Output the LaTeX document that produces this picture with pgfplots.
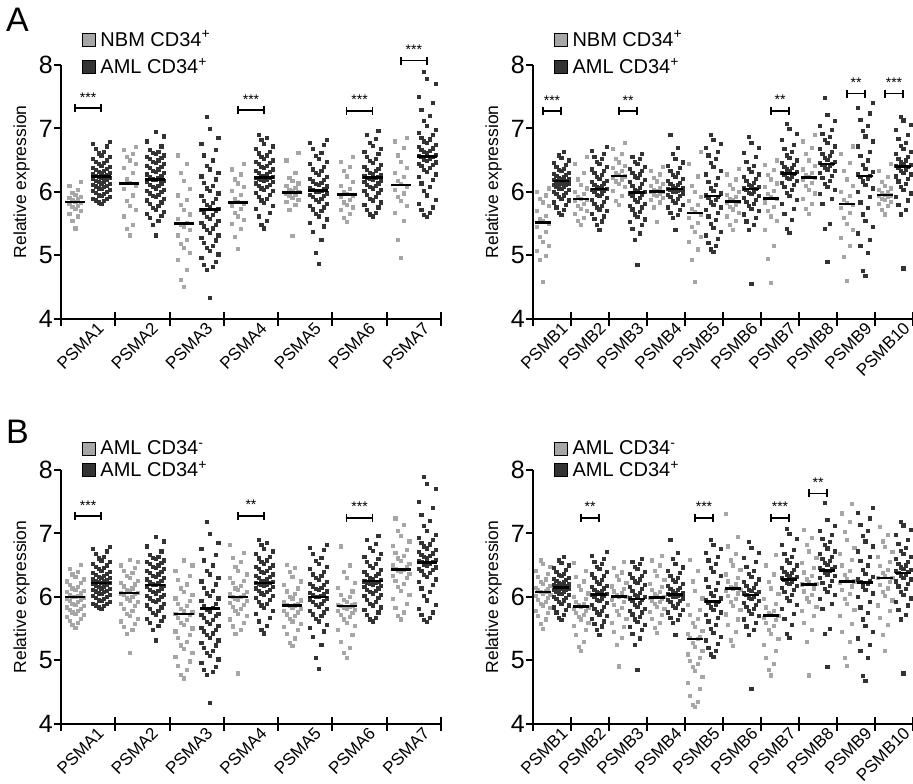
\documentclass[border=0pt]{standalone}
\usepackage{fontspec}
\setmainfont{Liberation Sans}
\usepackage{pgfplots}
\usepackage{pgfplotstable}
\pgfplotsset{compat=1.18}
\definecolor{lg}{HTML}{A6A6A6}
\definecolor{dg}{HTML}{333333}

% ---------- NBM CD34+ (panel A), PSMA1..7 ----------
\pgfplotstableread[header=false,row sep=\\]{5.43\\5.55\\5.62\\5.66\\5.70\\5.74\\5.77\\5.79\\5.81\\5.83\\5.85\\5.87\\5.89\\5.91\\5.93\\5.96\\5.99\\6.03\\6.10\\6.16\\}\nbmAa
\pgfplotstableread[header=false,row sep=\\]{5.32\\5.42\\5.48\\5.62\\5.72\\5.78\\5.86\\5.95\\6.05\\6.10\\6.15\\6.20\\6.30\\6.38\\6.45\\6.50\\6.55\\6.60\\6.66\\6.71\\}\nbmAb
\pgfplotstableread[header=false,row sep=\\]{4.51\\4.62\\4.78\\4.93\\5.05\\5.12\\5.18\\5.25\\5.32\\5.40\\5.45\\5.49\\5.52\\5.58\\5.65\\5.72\\5.80\\5.88\\5.95\\6.05\\6.18\\6.30\\6.45\\6.58\\}\nbmAc
\pgfplotstableread[header=false,row sep=\\]{5.11\\5.30\\5.42\\5.50\\5.56\\5.62\\5.68\\5.74\\5.79\\5.82\\5.85\\5.90\\5.96\\6.02\\6.08\\6.14\\6.20\\6.28\\6.36\\6.45\\}\nbmAd
\pgfplotstableread[header=false,row sep=\\]{5.31\\5.72\\5.80\\5.85\\5.88\\5.91\\5.94\\5.96\\5.98\\6.00\\6.02\\6.04\\6.07\\6.10\\6.14\\6.18\\6.22\\6.30\\6.50\\6.62\\}\nbmAe
\pgfplotstableread[header=false,row sep=\\]{5.53\\5.60\\5.66\\5.72\\5.76\\5.80\\5.84\\5.88\\5.92\\5.95\\5.97\\6.00\\6.05\\6.10\\6.16\\6.25\\6.33\\6.40\\6.48\\6.55\\}\nbmAf
\pgfplotstableread[header=false,row sep=\\]{4.96\\5.25\\5.55\\5.68\\5.78\\5.86\\5.92\\5.98\\6.04\\6.09\\6.13\\6.18\\6.24\\6.30\\6.38\\6.48\\6.58\\6.70\\6.80\\6.85\\}\nbmAg
% ---------- AML CD34+, PSMA1..7 ----------
\pgfplotstableread[header=false,row sep=\\]{5.82\\5.84\\5.86\\5.87\\5.89\\5.90\\5.92\\5.94\\5.95\\5.97\\5.99\\6.00\\6.02\\6.03\\6.05\\6.06\\6.08\\6.09\\6.10\\6.12\\6.13\\6.14\\6.16\\6.17\\6.18\\6.20\\6.21\\6.22\\6.23\\6.24\\6.25\\6.26\\6.27\\6.28\\6.30\\6.31\\6.32\\6.34\\6.35\\6.37\\6.38\\6.40\\6.42\\6.44\\6.46\\6.48\\6.50\\6.52\\6.55\\6.58\\6.61\\6.64\\6.68\\6.72\\6.76\\6.79\\}\amlAa
\pgfplotstableread[header=false,row sep=\\]{5.32\\5.48\\5.55\\5.60\\5.63\\5.66\\5.69\\5.72\\5.75\\5.78\\5.81\\5.84\\5.87\\5.90\\5.92\\5.94\\5.96\\5.98\\6.00\\6.02\\6.04\\6.06\\6.08\\6.10\\6.12\\6.14\\6.16\\6.18\\6.19\\6.20\\6.22\\6.24\\6.26\\6.28\\6.30\\6.32\\6.34\\6.36\\6.38\\6.40\\6.42\\6.44\\6.46\\6.48\\6.50\\6.52\\6.54\\6.56\\6.58\\6.60\\6.62\\6.64\\6.67\\6.72\\6.80\\6.88\\6.95\\}\amlAb
\pgfplotstableread[header=false,row sep=\\]{4.33\\4.78\\4.82\\4.86\\4.90\\4.96\\5.02\\5.08\\5.12\\5.16\\5.20\\5.24\\5.28\\5.32\\5.36\\5.40\\5.43\\5.46\\5.49\\5.52\\5.55\\5.58\\5.61\\5.64\\5.67\\5.70\\5.72\\5.74\\5.77\\5.80\\5.83\\5.86\\5.90\\5.94\\5.98\\6.02\\6.06\\6.10\\6.15\\6.20\\6.25\\6.30\\6.36\\6.42\\6.50\\6.58\\6.66\\6.76\\6.85\\7.00\\7.18\\}\amlAc
\pgfplotstableread[header=false,row sep=\\]{5.43\\5.48\\5.55\\5.62\\5.68\\5.74\\5.79\\5.83\\5.87\\5.90\\5.93\\5.96\\5.99\\6.02\\6.04\\6.06\\6.08\\6.10\\6.12\\6.14\\6.16\\6.18\\6.19\\6.20\\6.21\\6.22\\6.23\\6.24\\6.25\\6.26\\6.28\\6.30\\6.32\\6.34\\6.36\\6.38\\6.40\\6.42\\6.44\\6.46\\6.48\\6.50\\6.52\\6.55\\6.58\\6.61\\6.64\\6.68\\6.72\\6.76\\6.82\\6.86\\6.90\\}\amlAd
\pgfplotstableread[header=false,row sep=\\]{4.87\\5.05\\5.25\\5.38\\5.46\\5.52\\5.57\\5.62\\5.66\\5.70\\5.73\\5.76\\5.79\\5.82\\5.85\\5.88\\5.90\\5.92\\5.94\\5.96\\5.98\\6.00\\6.01\\6.02\\6.03\\6.05\\6.07\\6.09\\6.11\\6.13\\6.15\\6.17\\6.19\\6.21\\6.24\\6.27\\6.30\\6.33\\6.36\\6.40\\6.44\\6.48\\6.52\\6.57\\6.62\\6.68\\6.74\\6.78\\6.82\\}\amlAe
\pgfplotstableread[header=false,row sep=\\]{5.62\\5.65\\5.68\\5.72\\5.76\\5.80\\5.84\\5.87\\5.90\\5.93\\5.96\\5.99\\6.02\\6.04\\6.06\\6.08\\6.10\\6.12\\6.14\\6.16\\6.18\\6.20\\6.21\\6.22\\6.23\\6.24\\6.25\\6.27\\6.29\\6.31\\6.33\\6.35\\6.37\\6.40\\6.43\\6.46\\6.49\\6.52\\6.56\\6.60\\6.64\\6.68\\6.73\\6.78\\6.84\\6.90\\6.97\\}\amlAf
\pgfplotstableread[header=false,row sep=\\]{5.61\\5.64\\5.68\\5.72\\5.76\\5.82\\5.88\\5.95\\6.02\\6.08\\6.14\\6.19\\6.24\\6.28\\6.32\\6.35\\6.38\\6.41\\6.43\\6.45\\6.47\\6.49\\6.51\\6.53\\6.55\\6.56\\6.57\\6.59\\6.61\\6.63\\6.65\\6.67\\6.69\\6.71\\6.74\\6.77\\6.80\\6.83\\6.86\\6.90\\6.94\\6.98\\7.04\\7.12\\7.20\\7.30\\7.40\\7.50\\7.70\\7.78\\7.90\\}\amlAg
% ---------- NBM CD34+ (panel A), PSMB1..10 ----------
\pgfplotstableread[header=false,row sep=\\]{4.59\\4.93\\5.00\\5.08\\5.15\\5.22\\5.30\\5.38\\5.45\\5.50\\5.54\\5.58\\5.63\\5.70\\5.78\\5.84\\5.90\\5.95\\6.00\\6.06\\}\nbmBa
\pgfplotstableread[header=false,row sep=\\]{5.48\\5.55\\5.60\\5.66\\5.70\\5.74\\5.78\\5.82\\5.86\\5.88\\5.90\\5.93\\5.97\\6.01\\6.06\\6.12\\6.20\\6.30\\6.45\\6.56\\}\nbmBb
\pgfplotstableread[header=false,row sep=\\]{5.80\\5.86\\5.94\\6.02\\6.08\\6.13\\6.17\\6.20\\6.23\\6.25\\6.27\\6.30\\6.34\\6.38\\6.42\\6.47\\6.52\\6.60\\6.68\\6.77\\}\nbmBc
\pgfplotstableread[header=false,row sep=\\]{5.53\\5.76\\5.84\\5.88\\5.91\\5.94\\5.96\\5.98\\6.00\\6.01\\6.02\\6.04\\6.07\\6.10\\6.13\\6.17\\6.22\\6.28\\6.34\\6.40\\}\nbmBd
\pgfplotstableread[header=false,row sep=\\]{4.59\\4.93\\5.10\\5.22\\5.30\\5.38\\5.45\\5.52\\5.60\\5.65\\5.69\\5.74\\5.80\\5.86\\5.92\\6.00\\6.10\\6.25\\6.45\\6.64\\}\nbmBe
\pgfplotstableread[header=false,row sep=\\]{5.41\\5.48\\5.55\\5.62\\5.68\\5.73\\5.77\\5.80\\5.83\\5.85\\5.87\\5.90\\5.93\\5.96\\6.00\\6.05\\6.12\\6.20\\6.28\\6.37\\}\nbmBf
\pgfplotstableread[header=false,row sep=\\]{4.57\\4.95\\5.15\\5.40\\5.55\\5.62\\5.70\\5.77\\5.84\\5.89\\5.92\\5.97\\6.02\\6.08\\6.14\\6.20\\6.27\\6.35\\6.43\\6.50\\}\nbmBg
\pgfplotstableread[header=false,row sep=\\]{5.66\\5.74\\5.82\\5.90\\5.98\\6.04\\6.10\\6.15\\6.19\\6.22\\6.24\\6.27\\6.31\\6.36\\6.42\\6.50\\6.60\\6.70\\6.80\\6.90\\}\nbmBh
\pgfplotstableread[header=false,row sep=\\]{4.60\\4.98\\5.15\\5.28\\5.40\\5.50\\5.60\\5.68\\5.75\\5.80\\5.83\\5.88\\5.94\\6.00\\6.10\\6.20\\6.33\\6.46\\6.60\\6.72\\}\nbmBi
\pgfplotstableread[header=false,row sep=\\]{5.65\\5.72\\5.78\\5.82\\5.85\\5.88\\5.90\\5.92\\5.94\\5.95\\5.96\\5.98\\6.00\\6.03\\6.06\\6.10\\6.16\\6.24\\6.34\\6.44\\}\nbmBj
% ---------- AML CD34+, PSMB1..10 ----------
\pgfplotstableread[header=false,row sep=\\]{5.64\\5.68\\5.72\\5.76\\5.80\\5.84\\5.87\\5.90\\5.93\\5.95\\5.97\\5.99\\6.01\\6.03\\6.05\\6.06\\6.08\\6.09\\6.11\\6.12\\6.13\\6.14\\6.15\\6.16\\6.17\\6.18\\6.19\\6.20\\6.21\\6.23\\6.24\\6.26\\6.27\\6.29\\6.31\\6.33\\6.35\\6.37\\6.40\\6.43\\6.46\\6.50\\6.54\\6.58\\6.64\\}\amlBa
\pgfplotstableread[header=false,row sep=\\]{5.40\\5.48\\5.54\\5.58\\5.62\\5.66\\5.70\\5.73\\5.76\\5.79\\5.82\\5.85\\5.88\\5.91\\5.94\\5.96\\5.98\\6.00\\6.02\\6.04\\6.05\\6.06\\6.08\\6.10\\6.12\\6.14\\6.16\\6.18\\6.21\\6.24\\6.27\\6.30\\6.33\\6.36\\6.40\\6.44\\6.48\\6.52\\6.56\\6.60\\6.65\\6.71\\}\amlBb
\pgfplotstableread[header=false,row sep=\\]{4.85\\5.25\\5.35\\5.42\\5.48\\5.53\\5.57\\5.61\\5.65\\5.69\\5.73\\5.76\\5.79\\5.82\\5.85\\5.88\\5.91\\5.94\\5.96\\5.98\\6.00\\6.02\\6.04\\6.07\\6.10\\6.13\\6.16\\6.19\\6.22\\6.25\\6.28\\6.31\\6.34\\6.37\\6.40\\6.44\\6.48\\6.52\\6.56\\6.60\\}\amlBc
\pgfplotstableread[header=false,row sep=\\]{5.40\\5.60\\5.64\\5.68\\5.72\\5.76\\5.80\\5.83\\5.86\\5.89\\5.92\\5.94\\5.96\\5.98\\6.00\\6.01\\6.02\\6.03\\6.04\\6.05\\6.06\\6.07\\6.09\\6.11\\6.13\\6.15\\6.18\\6.21\\6.24\\6.27\\6.30\\6.34\\6.38\\6.42\\6.47\\6.52\\6.60\\6.70\\6.90\\}\amlBd
\pgfplotstableread[header=false,row sep=\\]{5.06\\5.10\\5.15\\5.20\\5.26\\5.32\\5.38\\5.44\\5.50\\5.56\\5.62\\5.67\\5.72\\5.76\\5.80\\5.84\\5.88\\5.91\\5.93\\5.95\\5.98\\6.02\\6.06\\6.11\\6.16\\6.22\\6.28\\6.34\\6.40\\6.46\\6.52\\6.58\\6.64\\6.70\\6.76\\6.82\\6.90\\}\amlBe
\pgfplotstableread[header=false,row sep=\\]{4.56\\5.40\\5.48\\5.54\\5.60\\5.65\\5.70\\5.74\\5.78\\5.82\\5.85\\5.88\\5.91\\5.94\\5.97\\5.99\\6.01\\6.03\\6.05\\6.06\\6.08\\6.10\\6.12\\6.15\\6.18\\6.21\\6.24\\6.28\\6.32\\6.37\\6.42\\6.48\\6.55\\6.62\\6.70\\6.78\\6.87\\}\amlBf
\pgfplotstableread[header=false,row sep=\\]{5.36\\5.42\\5.56\\5.66\\5.74\\5.82\\5.88\\5.94\\5.99\\6.04\\6.08\\6.12\\6.15\\6.18\\6.21\\6.23\\6.25\\6.27\\6.29\\6.30\\6.32\\6.34\\6.36\\6.38\\6.40\\6.43\\6.46\\6.50\\6.54\\6.58\\6.63\\6.68\\6.74\\6.82\\6.92\\7.00\\7.07\\}\amlBg
\pgfplotstableread[header=false,row sep=\\]{4.90\\5.42\\5.50\\5.82\\5.90\\5.97\\6.03\\6.08\\6.13\\6.18\\6.22\\6.26\\6.30\\6.33\\6.36\\6.39\\6.41\\6.43\\6.44\\6.46\\6.48\\6.51\\6.54\\6.57\\6.60\\6.64\\6.68\\6.72\\6.77\\6.82\\6.87\\6.92\\6.98\\7.05\\7.12\\7.22\\7.48\\}\amlBh
\pgfplotstableread[header=false,row sep=\\]{4.68\\4.76\\5.05\\5.15\\5.25\\5.35\\5.45\\5.55\\5.65\\5.75\\5.84\\5.92\\6.00\\6.06\\6.12\\6.17\\6.21\\6.24\\6.26\\6.28\\6.32\\6.37\\6.43\\6.50\\6.57\\6.64\\6.72\\6.80\\6.88\\6.96\\7.05\\7.14\\7.24\\7.33\\7.41\\}\amlBi
\pgfplotstableread[header=false,row sep=\\]{4.80\\5.65\\5.72\\5.80\\5.87\\5.93\\5.98\\6.03\\6.08\\6.13\\6.17\\6.21\\6.25\\6.28\\6.31\\6.34\\6.36\\6.38\\6.40\\6.41\\6.43\\6.45\\6.47\\6.50\\6.53\\6.56\\6.60\\6.64\\6.68\\6.73\\6.78\\6.84\\6.90\\6.98\\7.06\\7.13\\7.19\\}\amlBj
% ---------- AML CD34- (panel B), PSMA1..7 ----------
\pgfplotstableread[header=false,row sep=\\]{5.52\\5.56\\5.60\\5.63\\5.66\\5.69\\5.72\\5.74\\5.76\\5.78\\5.80\\5.82\\5.84\\5.86\\5.88\\5.90\\5.92\\5.94\\5.96\\5.98\\5.99\\6.00\\6.01\\6.02\\6.04\\6.06\\6.08\\6.10\\6.12\\6.14\\6.16\\6.19\\6.22\\6.25\\6.28\\6.32\\6.36\\6.40\\6.45\\6.51\\}\negAa
\pgfplotstableread[header=false,row sep=\\]{5.12\\5.42\\5.48\\5.53\\5.58\\5.62\\5.66\\5.70\\5.74\\5.78\\5.82\\5.86\\5.89\\5.92\\5.95\\5.98\\6.01\\6.03\\6.05\\6.06\\6.07\\6.09\\6.11\\6.14\\6.17\\6.20\\6.23\\6.26\\6.30\\6.34\\6.38\\6.42\\6.46\\6.50\\6.55\\6.59\\}\negAb
\pgfplotstableread[header=false,row sep=\\]{4.72\\4.78\\4.85\\4.92\\4.99\\5.06\\5.12\\5.18\\5.24\\5.30\\5.36\\5.41\\5.46\\5.51\\5.56\\5.60\\5.64\\5.68\\5.72\\5.74\\5.76\\5.78\\5.82\\5.86\\5.90\\5.94\\5.98\\6.03\\6.08\\6.14\\6.20\\6.27\\6.34\\6.42\\6.50\\6.58\\}\negAc
\pgfplotstableread[header=false,row sep=\\]{4.80\\5.42\\5.48\\5.54\\5.60\\5.65\\5.70\\5.74\\5.78\\5.82\\5.85\\5.88\\5.91\\5.94\\5.96\\5.98\\6.00\\6.01\\6.03\\6.05\\6.08\\6.11\\6.14\\6.18\\6.22\\6.26\\6.31\\6.36\\6.42\\6.48\\6.55\\6.62\\6.70\\6.82\\}\negAd
\pgfplotstableread[header=false,row sep=\\]{5.23\\5.28\\5.35\\5.42\\5.48\\5.53\\5.58\\5.62\\5.66\\5.70\\5.73\\5.76\\5.79\\5.82\\5.84\\5.86\\5.87\\5.88\\5.90\\5.92\\5.95\\5.98\\6.01\\6.05\\6.09\\6.14\\6.19\\6.25\\6.32\\6.40\\6.46\\6.51\\}\negAe
\pgfplotstableread[header=false,row sep=\\]{5.05\\5.12\\5.20\\5.30\\5.40\\5.48\\5.55\\5.60\\5.65\\5.69\\5.72\\5.75\\5.78\\5.80\\5.82\\5.84\\5.85\\5.86\\5.87\\5.88\\5.90\\5.93\\5.96\\6.00\\6.04\\6.09\\6.15\\6.22\\6.30\\6.40\\6.50\\6.80\\}\negAf
\pgfplotstableread[header=false,row sep=\\]{5.65\\5.70\\5.76\\5.83\\5.90\\5.97\\6.04\\6.10\\6.16\\6.21\\6.26\\6.30\\6.34\\6.37\\6.40\\6.42\\6.43\\6.45\\6.47\\6.50\\6.53\\6.57\\6.61\\6.65\\6.70\\6.75\\6.81\\6.88\\6.96\\7.05\\7.14\\7.24\\}\negAg
% ---------- AML CD34- (panel B), PSMB1..10 ----------
\pgfplotstableread[header=false,row sep=\\]{5.50\\5.58\\5.65\\5.70\\5.75\\5.79\\5.83\\5.87\\5.90\\5.93\\5.96\\5.99\\6.02\\6.04\\6.06\\6.08\\6.09\\6.11\\6.13\\6.15\\6.18\\6.21\\6.24\\6.28\\6.32\\6.37\\6.42\\6.48\\6.53\\6.58\\}\negBa
\pgfplotstableread[header=false,row sep=\\]{5.15\\5.22\\5.30\\5.40\\5.48\\5.55\\5.60\\5.65\\5.69\\5.72\\5.75\\5.78\\5.81\\5.84\\5.85\\5.87\\5.90\\5.93\\5.97\\6.01\\6.06\\6.12\\6.18\\6.25\\6.32\\6.42\\6.54\\}\negBb
\pgfplotstableread[header=false,row sep=\\]{4.91\\5.25\\5.36\\5.45\\5.53\\5.60\\5.66\\5.72\\5.78\\5.83\\5.88\\5.92\\5.96\\6.00\\6.01\\6.03\\6.06\\6.09\\6.13\\6.17\\6.22\\6.27\\6.33\\6.39\\6.46\\6.56\\}\negBc
\pgfplotstableread[header=false,row sep=\\]{5.44\\5.52\\5.60\\5.66\\5.72\\5.77\\5.81\\5.85\\5.89\\5.92\\5.95\\5.97\\5.99\\6.00\\6.02\\6.05\\6.08\\6.12\\6.16\\6.21\\6.27\\6.34\\6.42\\6.50\\6.58\\6.65\\}\negBd
\pgfplotstableread[header=false,row sep=\\]{4.27\\4.30\\4.35\\4.45\\4.55\\4.65\\4.75\\4.84\\4.90\\4.95\\5.00\\5.05\\5.10\\5.16\\5.22\\5.28\\5.34\\5.36\\5.38\\5.42\\5.47\\5.53\\5.60\\5.66\\5.72\\5.80\\5.88\\5.98\\6.10\\6.25\\6.42\\6.59\\}\negBe
\pgfplotstableread[header=false,row sep=\\]{5.23\\5.32\\5.45\\5.56\\5.65\\5.73\\5.80\\5.86\\5.92\\5.97\\6.02\\6.06\\6.10\\6.12\\6.14\\6.16\\6.20\\6.25\\6.30\\6.36\\6.43\\6.50\\6.58\\6.68\\6.80\\6.95\\7.31\\}\negBf
\pgfplotstableread[header=false,row sep=\\]{4.77\\4.85\\4.95\\5.05\\5.15\\5.25\\5.34\\5.42\\5.49\\5.55\\5.60\\5.64\\5.68\\5.71\\5.72\\5.75\\5.79\\5.84\\5.90\\5.97\\6.05\\6.14\\6.24\\6.36\\6.50\\6.67\\}\negBg
\pgfplotstableread[header=false,row sep=\\]{4.77\\5.30\\5.48\\5.60\\5.70\\5.78\\5.85\\5.92\\5.98\\6.04\\6.09\\6.14\\6.20\\6.21\\6.24\\6.28\\6.33\\6.39\\6.46\\6.54\\6.62\\6.72\\6.82\\6.93\\7.06\\}\negBh
\pgfplotstableread[header=false,row sep=\\]{4.92\\5.05\\5.30\\5.45\\5.58\\5.70\\5.80\\5.89\\5.97\\6.05\\6.11\\6.17\\6.22\\6.25\\6.29\\6.35\\6.42\\6.50\\6.59\\6.68\\6.78\\6.90\\7.03\\7.18\\7.32\\7.47\\}\negBi
\pgfplotstableread[header=false,row sep=\\]{5.15\\5.40\\5.56\\5.68\\5.78\\5.87\\5.95\\6.02\\6.08\\6.14\\6.19\\6.24\\6.30\\6.31\\6.34\\6.38\\6.43\\6.49\\6.56\\6.63\\6.71\\6.79\\6.88\\6.98\\7.11\\}\negBj

% group of dots: #1 centre, #2 jitter step, #3 jitter period, #4 colour, #5 table
\newcommand{\grp}[5]{\addplot[only marks, mark=square*, mark size=1.6pt, color=#4] table[x expr={#1+#2*(1-2*mod(mod(\coordindex,#3),2))*ceil(mod(\coordindex,#3)/2)}, y index=0] {#5};}
% significance bracket
\newcommand{\brk}[4]{\addplot[black, line width=1.8pt, mark=|, mark size=4pt, mark options={line width=1.8pt}] coordinates {(#1,#3)(#2,#3)} node[pos=0.5, anchor=base, yshift=6pt, inner sep=0pt, font=\fontsize{14}{14}\selectfont] {#4};}
% medians
\newcommand{\med}[2]{\addplot[only marks, mark=-, mark size=#1, mark options={line width=2.6pt, black}] coordinates {#2};}

\pgfplotsset{
  panel/.style={
    scale only axis, width=380pt, height=254pt,
    ymin=4, ymax=8, ytick={4,5,6,7,8},
    axis x line*=bottom, axis y line*=left,
    axis line style={line width=2pt, black},
    every tick/.style={line width=2pt, black},
    major tick length=7pt,
    minor tick length=14pt,
    ytick align=outside,
    xtick align=center,
    major x tick style={draw=none},
    clip=false,
    /pgf/number format/assume math mode=true,
    yticklabel style={font=\fontsize{25}{25}\selectfont, inner sep=1pt},
    xticklabel style={font=\fontsize{17}{17}\selectfont, rotate=45, anchor=east, inner sep=0pt, xshift=7pt, yshift=-11pt},
    ylabel={Relative expression},
    ylabel style={font=\fontsize{17.5}{17.5}\selectfont, anchor=center},
    legend cell align=left,
    legend image code/.code={\fill (0pt,-6.5pt) rectangle (13pt,6.5pt);},
    legend style={draw=none, fill=none, inner sep=0pt, anchor=north west, font=\fontsize{20}{20}\selectfont,
      nodes={inner sep=0pt, font=\fontsize{20}{20}\selectfont},
      /tikz/every odd column/.append style={column sep=5pt}},
  },
}

\begin{document}
\begin{tikzpicture}
\useasboundingbox (0,0) rectangle (913pt,784pt);
\node[font=\fontsize{34}{34}\selectfont, anchor=north west, inner sep=0pt] at (6pt,776pt) {A};
\node[font=\fontsize{34}{34}\selectfont, anchor=north west, inner sep=0pt] at (6pt,364pt) {B};

% ================= A left =================
\begin{axis}[panel, at={(61pt,465pt)}, anchor=south west,
  xmin=0, xmax=7, xtick={0.5,1.5,...,6.5},
  xticklabels={PSMA1,PSMA2,PSMA3,PSMA4,PSMA5,PSMA6,PSMA7},
  minor xtick={0,1,...,7},
  ylabel style={at={(axis description cs:-0.104,0.54)}},
  legend style={at={(axis description cs:0.055,1.135)}, row sep=10pt}]
\addlegendimage{fill=lg}\addlegendentry{NBM CD34\textsuperscript{+}}
\addlegendimage{fill=dg}\addlegendentry{AML CD34\textsuperscript{+}}
\grp{0.26}{0.055}{5}{lg}{\nbmAa}\grp{0.74}{0.052}{7}{dg}{\amlAa}
\grp{1.26}{0.055}{5}{lg}{\nbmAb}\grp{1.74}{0.052}{7}{dg}{\amlAb}
\grp{2.26}{0.055}{5}{lg}{\nbmAc}\grp{2.74}{0.052}{7}{dg}{\amlAc}
\grp{3.26}{0.055}{5}{lg}{\nbmAd}\grp{3.74}{0.052}{7}{dg}{\amlAd}
\grp{4.26}{0.055}{5}{lg}{\nbmAe}\grp{4.74}{0.052}{7}{dg}{\amlAe}
\grp{5.26}{0.055}{5}{lg}{\nbmAf}\grp{5.74}{0.052}{7}{dg}{\amlAf}
\grp{6.26}{0.055}{5}{lg}{\nbmAg}\grp{6.74}{0.052}{7}{dg}{\amlAg}
\med{10pt}{(0.26,5.84)(0.74,6.24)(1.26,6.13)(1.74,6.20)(2.26,5.50)(2.74,5.72)(3.26,5.83)(3.74,6.23)(4.26,5.99)(4.74,6.02)(5.26,5.96)(5.74,6.23)(6.26,6.11)(6.74,6.56)}
\brk{0.26}{0.74}{7.32}{***}
\brk{3.26}{3.74}{7.29}{***}
\brk{5.26}{5.74}{7.28}{***}
\brk{6.26}{6.74}{8.07}{***}
\end{axis}

% ================= A right =================
\begin{axis}[panel, at={(533pt,465pt)}, anchor=south west,
  xmin=0, xmax=10, xtick={0.5,1.5,...,9.5},
  xticklabels={PSMB1,PSMB2,PSMB3,PSMB4,PSMB5,PSMB6,PSMB7,PSMB8,PSMB9,PSMB10},
  minor xtick={0,1,...,10},
  ylabel style={at={(axis description cs:-0.104,0.54)}},
  legend style={at={(axis description cs:0.055,1.135)}, row sep=10pt}]
\addlegendimage{fill=lg}\addlegendentry{NBM CD34\textsuperscript{+}}
\addlegendimage{fill=dg}\addlegendentry{AML CD34\textsuperscript{+}}
\grp{0.26}{0.078}{5}{lg}{\nbmBa}\grp{0.74}{0.065}{7}{dg}{\amlBa}
\grp{1.26}{0.078}{5}{lg}{\nbmBb}\grp{1.74}{0.065}{7}{dg}{\amlBb}
\grp{2.26}{0.078}{5}{lg}{\nbmBc}\grp{2.74}{0.065}{7}{dg}{\amlBc}
\grp{3.26}{0.078}{5}{lg}{\nbmBd}\grp{3.74}{0.065}{7}{dg}{\amlBd}
\grp{4.26}{0.078}{5}{lg}{\nbmBe}\grp{4.74}{0.065}{7}{dg}{\amlBe}
\grp{5.26}{0.078}{5}{lg}{\nbmBf}\grp{5.74}{0.065}{7}{dg}{\amlBf}
\grp{6.26}{0.078}{5}{lg}{\nbmBg}\grp{6.74}{0.065}{7}{dg}{\amlBg}
\grp{7.26}{0.078}{5}{lg}{\nbmBh}\grp{7.74}{0.065}{7}{dg}{\amlBh}
\grp{8.26}{0.078}{5}{lg}{\nbmBi}\grp{8.74}{0.065}{7}{dg}{\amlBi}
\grp{9.26}{0.078}{5}{lg}{\nbmBj}\grp{9.74}{0.065}{7}{dg}{\amlBj}
\med{8pt}{(0.26,5.52)(0.74,6.17)(1.26,5.89)(1.74,6.05)(2.26,6.25)(2.74,5.99)(3.26,6.01)(3.74,6.05)(4.26,5.67)(4.74,5.94)(5.26,5.85)(5.74,6.05)(6.26,5.90)(6.74,6.29)(7.26,6.23)(7.74,6.44)(8.26,5.81)(8.74,6.25)(9.26,5.95)(9.74,6.40)}
\brk{0.26}{0.74}{7.27}{***}
\brk{2.26}{2.74}{7.27}{**}
\brk{6.26}{6.74}{7.28}{**}
\brk{8.26}{8.74}{7.55}{**}
\brk{9.26}{9.74}{7.55}{***}
\end{axis}

% ================= B left =================
\begin{axis}[panel, at={(61pt,60pt)}, anchor=south west,
  xmin=0, xmax=7, xtick={0.5,1.5,...,6.5},
  xticklabels={PSMA1,PSMA2,PSMA3,PSMA4,PSMA5,PSMA6,PSMA7},
  minor xtick={0,1,...,7},
  ylabel style={at={(axis description cs:-0.104,0.5)}},
  legend style={at={(axis description cs:0.055,1.116)}, row sep=5pt}]
\addlegendimage{fill=lg}\addlegendentry{AML CD34\textsuperscript{-}}
\addlegendimage{fill=dg}\addlegendentry{AML CD34\textsuperscript{+}}
\grp{0.26}{0.052}{7}{lg}{\negAa}\grp{0.74}{0.052}{7}{dg}{\amlAa}
\grp{1.26}{0.052}{7}{lg}{\negAb}\grp{1.74}{0.052}{7}{dg}{\amlAb}
\grp{2.26}{0.052}{7}{lg}{\negAc}\grp{2.74}{0.052}{7}{dg}{\amlAc}
\grp{3.26}{0.052}{7}{lg}{\negAd}\grp{3.74}{0.052}{7}{dg}{\amlAd}
\grp{4.26}{0.052}{7}{lg}{\negAe}\grp{4.74}{0.052}{7}{dg}{\amlAe}
\grp{5.26}{0.052}{7}{lg}{\negAf}\grp{5.74}{0.052}{7}{dg}{\amlAf}
\grp{6.26}{0.052}{7}{lg}{\negAg}\grp{6.74}{0.052}{7}{dg}{\amlAg}
\med{10pt}{(0.26,6.00)(0.74,6.22)(1.26,6.06)(1.74,6.19)(2.26,5.73)(2.74,5.82)(3.26,6.00)(3.74,6.22)(4.26,5.87)(4.74,6.00)(5.26,5.86)(5.74,6.25)(6.26,6.43)(6.74,6.54)}
\brk{0.26}{0.74}{7.27}{***}
\brk{3.26}{3.74}{7.28}{**}
\brk{5.26}{5.74}{7.25}{***}
\end{axis}

% ================= B right =================
\begin{axis}[panel, at={(533pt,60pt)}, anchor=south west,
  xmin=0, xmax=10, xtick={0.5,1.5,...,9.5},
  xticklabels={PSMB1,PSMB2,PSMB3,PSMB4,PSMB5,PSMB6,PSMB7,PSMB8,PSMB9,PSMB10},
  minor xtick={0,1,...,10},
  ylabel style={at={(axis description cs:-0.104,0.5)}},
  legend style={at={(axis description cs:0.055,1.116)}, row sep=5pt}]
\addlegendimage{fill=lg}\addlegendentry{AML CD34\textsuperscript{-}}
\addlegendimage{fill=dg}\addlegendentry{AML CD34\textsuperscript{+}}
\grp{0.26}{0.065}{7}{lg}{\negBa}\grp{0.74}{0.065}{7}{dg}{\amlBa}
\grp{1.26}{0.065}{7}{lg}{\negBb}\grp{1.74}{0.065}{7}{dg}{\amlBb}
\grp{2.26}{0.065}{7}{lg}{\negBc}\grp{2.74}{0.065}{7}{dg}{\amlBc}
\grp{3.26}{0.065}{7}{lg}{\negBd}\grp{3.74}{0.065}{7}{dg}{\amlBd}
\grp{4.26}{0.065}{7}{lg}{\negBe}\grp{4.74}{0.065}{7}{dg}{\amlBe}
\grp{5.26}{0.065}{7}{lg}{\negBf}\grp{5.74}{0.065}{7}{dg}{\amlBf}
\grp{6.26}{0.065}{7}{lg}{\negBg}\grp{6.74}{0.065}{7}{dg}{\amlBg}
\grp{7.26}{0.065}{7}{lg}{\negBh}\grp{7.74}{0.065}{7}{dg}{\amlBh}
\grp{8.26}{0.065}{7}{lg}{\negBi}\grp{8.74}{0.065}{7}{dg}{\amlBi}
\grp{9.26}{0.065}{7}{lg}{\negBj}\grp{9.74}{0.065}{7}{dg}{\amlBj}
\med{8pt}{(0.26,6.08)(0.74,6.15)(1.26,5.85)(1.74,6.04)(2.26,6.01)(2.74,5.97)(3.26,5.99)(3.74,6.04)(4.26,5.34)(4.74,5.93)(5.26,6.13)(5.74,6.03)(6.26,5.71)(6.74,6.28)(7.26,6.20)(7.74,6.42)(8.26,6.24)(8.74,6.23)(9.26,6.30)(9.74,6.38)}
\brk{1.26}{1.74}{7.25}{**}
\brk{4.26}{4.74}{7.25}{***}
\brk{6.26}{6.74}{7.25}{***}
\brk{7.26}{7.74}{7.63}{**}
\end{axis}
\end{tikzpicture}
\end{document}
